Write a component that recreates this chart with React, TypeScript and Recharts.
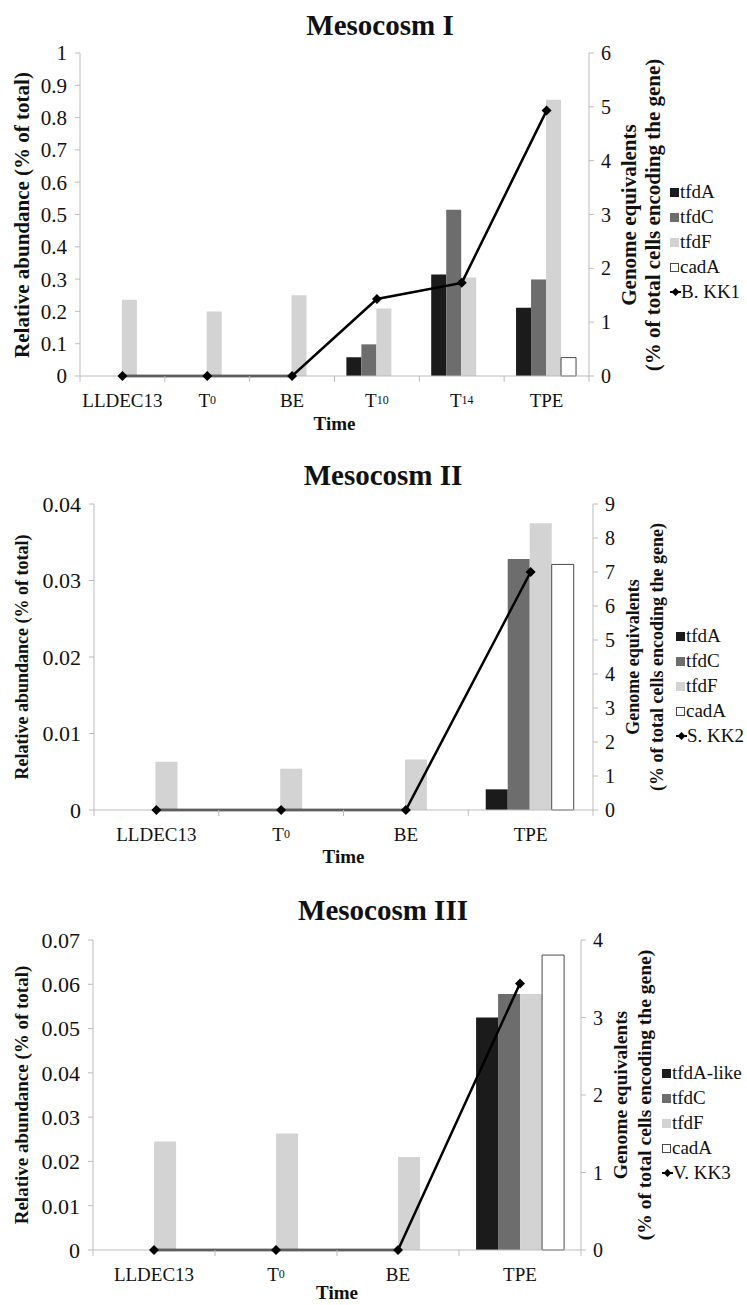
import React from "react";
import { ComposedChart, Bar, Line, XAxis, YAxis } from "recharts";

document.body.style.margin = "0";

const FONT = '"Liberation Serif", "Times New Roman", serif';
const AX = "#bdbdbd";
const FILLS = ["#1b1b1b", "#6d6d6d", "#d3d3d3", "#ffffff"];

// Mesocosm I
const catsI = ["LLDEC13", "T0", "BE", "T10", "T14", "TPE"];
const tfdA_I = [null, null, null, 0.058, 0.314, 0.211];
const tfdC_I = [null, null, null, 0.098, 0.515, 0.299];
const tfdF_I = [0.236, 0.2, 0.25, 0.209, 0.305, 0.855];
const cadA_I = [null, null, null, null, null, 0.057];
const kk1 = [0, 0, 0, 1.43, 1.73, 4.93];
const leftTicksI = [0, 0.1, 0.2, 0.3, 0.4, 0.5, 0.6, 0.7, 0.8, 0.9, 1];
const rightTicksI = [0, 1, 2, 3, 4, 5, 6];

// Mesocosm II
const catsII = ["LLDEC13", "T0", "BE", "TPE"];
const tfdA_II = [null, null, null, 0.0027];
const tfdC_II = [null, null, null, 0.0328];
const tfdF_II = [0.0063, 0.0054, 0.0066, 0.0375];
const cadA_II = [null, null, null, 0.0321];
const kk2 = [0, 0, 0, 7.0];
const leftTicksII = [0, 0.01, 0.02, 0.03, 0.04];
const rightTicksII = [0, 1, 2, 3, 4, 5, 6, 7, 8, 9];

// Mesocosm III
const catsIII = ["LLDEC13", "T0", "BE", "TPE"];
const tfdA_III = [null, null, null, 0.0525];
const tfdC_III = [null, null, null, 0.0578];
const tfdF_III = [0.0245, 0.0263, 0.021, 0.0578];
const cadA_III = [null, null, null, 0.0666];
const kk3 = [0, 0, 0, 3.44];
const leftTicksIII = [0, 0.01, 0.02, 0.03, 0.04, 0.05, 0.06, 0.07];
const rightTicksIII = [0, 1, 2, 3, 4];

const panels = [
  {
    title: "Mesocosm I", titleY: 25, titleX: 380,
    cats: catsI, bars: [tfdA_I, tfdC_I, tfdF_I, cadA_I],
    names: ["tfdA", "tfdC", "tfdF", "cadA"], lineName: "B. KK1", line: kk1,
    leftTicks: leftTicksI, rightTicks: rightTicksI,
    left: 80, right: 589, top: 53, bottom: 376, timeDy: 48, leftFont: 21,
    legX: 675, legY: 192, vLeft: 21, vRight: 21,
  },
  {
    title: "Mesocosm II", titleY: 40, titleX: 383,
    cats: catsII, bars: [tfdA_II, tfdC_II, tfdF_II, cadA_II],
    names: ["tfdA", "tfdC", "tfdF", "cadA"], lineName: "S. KK2", line: kk2,
    leftTicks: leftTicksII, rightTicks: rightTicksII,
    left: 94, right: 593, top: 69, bottom: 375, timeDy: 47, leftFont: 22,
    legX: 681, legY: 201, vLeft: 18, vRight: 18,
  },
  {
    title: "Mesocosm III", titleY: 40, titleX: 383,
    cats: catsIII, bars: [tfdA_III, tfdC_III, tfdF_III, cadA_III],
    names: ["tfdA-like", "tfdC", "tfdF", "cadA"], lineName: "V. KK3", line: kk3,
    leftTicks: leftTicksIII, rightTicks: rightTicksIII,
    left: 93, right: 581, top: 70, bottom: 380, timeDy: 43, leftFont: 22,
    legX: 667, legY: 203, vLeft: 19, vRight: 19.5,
  },
];

function XTick(props: any) {
  const { x, y, payload, index, bw, n } = props;
  const m = /^T(\d+)$/.exec(payload.value);
  return (
    <g>
      <line x1={x - bw / 2} x2={x - bw / 2} y1={y} y2={y + 6} stroke={AX} />
      {index === n - 1 && <line x1={x + bw / 2} x2={x + bw / 2} y1={y} y2={y + 6} stroke={AX} />}
      <text x={x} y={y + 24} textAnchor="middle" dominantBaseline="central" fontSize={19} fontFamily={FONT} fill="#111">
        {m ? (
          <>
            T<tspan fontSize={12}>{m[1]}</tspan>
          </>
        ) : (
          payload.value
        )}
      </text>
    </g>
  );
}

function Diamond(props: any) {
  const { cx, cy } = props;
  if (cx == null || cy == null) return null;
  const r = 5;
  return <polygon points={`${cx},${cy - r} ${cx + r},${cy} ${cx},${cy + r} ${cx - r},${cy}`} fill="#000" />;
}

function Panel({ p }: { p: any }) {
  const W = 747;
  const H = 435;
  const rows = p.cats.map((c: string, i: number) => ({
    cat: c,
    b0: p.bars[0][i],
    b1: p.bars[1][i],
    b2: p.bars[2][i],
    b3: p.bars[3][i],
    line: p.line[i],
  }));
  const bw = (p.right - p.left) / p.cats.length;
  const lt = p.leftTicks;
  const rt = p.rightTicks;
  return (
    <div style={{ position: "relative", width: W, height: H, fontFamily: FONT }}>
      <div
        style={{
          position: "absolute", left: p.titleX, top: p.titleY, transform: "translate(-50%,-50%)",
          fontSize: 29, fontWeight: "bold", whiteSpace: "nowrap", color: "#111",
        }}
      >
        {p.title}
      </div>
      <ComposedChart
        width={W}
        height={H}
        data={rows}
        margin={{ top: p.top, right: W - p.right - 40, bottom: H - p.bottom - 50, left: 0 }}
        barCategoryGap="14%"
        barGap={0}
      >
        <XAxis
          dataKey="cat"
          height={50}
          tickSize={0}
          tickMargin={0}
          interval={0}
          axisLine={{ stroke: AX }}
          tick={<XTick bw={bw} n={p.cats.length} />}
        />
        <YAxis
          yAxisId="left"
          width={p.left}
          domain={[lt[0], lt[lt.length - 1]]}
          ticks={lt}
          interval={0}
          tickSize={5}
          tickMargin={8}
          axisLine={{ stroke: AX }}
          tickLine={{ stroke: AX }}
          tick={{ fontSize: p.leftFont, fontFamily: FONT, fill: "#111" }}
        />
        <YAxis
          yAxisId="right"
          orientation="right"
          width={40}
          domain={[rt[0], rt[rt.length - 1]]}
          ticks={rt}
          interval={0}
          tickSize={5}
          tickMargin={7}
          axisLine={{ stroke: AX }}
          tickLine={{ stroke: AX }}
          tick={{ fontSize: 20, fontFamily: FONT, fill: "#111" }}
        />
        {["b0", "b1", "b2", "b3"].map((k, i) => (
          <Bar
            key={k}
            yAxisId="left"
            dataKey={k}
            name={p.names[i]}
            fill={FILLS[i]}
            stroke={i === 3 ? "#4a4a4a" : "none"}
            strokeWidth={i === 3 ? 1 : 0}
            isAnimationActive={false}
          />
        ))}
        <Line
          yAxisId="right"
          dataKey="line"
          name={p.lineName}
          stroke="#000"
          strokeWidth={2.5}
          dot={<Diamond />}
          activeDot={false}
          isAnimationActive={false}
        />
      </ComposedChart>
      <div
        style={{
          position: "absolute", left: (p.left + p.right) / 2, top: p.bottom + p.timeDy,
          transform: "translate(-50%,-50%)", fontSize: 19, fontWeight: "bold", color: "#111",
        }}
      >
        Time
      </div>
      <div
        style={{
          position: "absolute", left: 22, top: (p.top + p.bottom) / 2,
          transform: "translate(-50%,-50%) rotate(-90deg)", fontSize: p.vLeft, fontWeight: "bold",
          whiteSpace: "nowrap", color: "#111",
        }}
      >
        Relative abundance (% of total)
      </div>
      <div
        style={{
          position: "absolute", left: p.right + 52, top: (p.top + p.bottom) / 2,
          transform: "translate(-50%,-50%) rotate(-90deg)", fontSize: p.vRight, fontWeight: "bold",
          whiteSpace: "nowrap", textAlign: "center", lineHeight: "24px", color: "#111",
        }}
      >
        Genome equivalents
        <br />
        (% of total cells encoding the gene)
      </div>
      <div style={{ position: "absolute", left: p.legX - 5, top: p.legY - 12.5, fontSize: 19, color: "#111" }}>
        {p.names.map((nm: string, i: number) => (
          <div key={nm} style={{ height: 25, display: "flex", alignItems: "center", whiteSpace: "nowrap" }}>
            <span
              style={{
                display: "inline-block", width: 9, height: 9, marginRight: 1, boxSizing: "border-box",
                background: FILLS[i], border: i === 3 ? "1px solid #4a4a4a" : "none",
              }}
            />
            {nm}
          </div>
        ))}
        <div style={{ height: 25, display: "flex", alignItems: "center", whiteSpace: "nowrap" }}>
          <svg width={11} height={10}>
            <line x1={0} x2={11} y1={5} y2={5} stroke="#000" strokeWidth={2} />
            <polygon points="5.5,1 9.5,5 5.5,9 1.5,5" fill="#000" />
          </svg>
          {p.lineName}
        </div>
      </div>
    </div>
  );
}

export default function App() {
  return (
    <div style={{ width: 747, height: 1305, background: "#fff" }}>
      {panels.map((p) => (
        <Panel key={p.title} p={p} />
      ))}
    </div>
  );
}
